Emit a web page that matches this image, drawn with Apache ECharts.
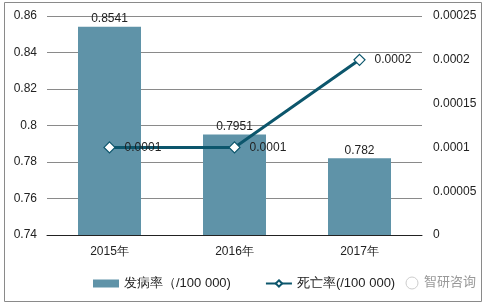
<!DOCTYPE html>
<html><head><meta charset="utf-8">
<script src="https://cdn.jsdelivr.net/npm/echarts@6/dist/echarts.min.js"></script>
<style>html,body{margin:0;padding:0;background:#fff}#c{width:487px;height:305px}</style>
</head><body><div id="c"></div>
<script>
const categories = ['2015年', '2016年', '2017年'];
const incidence = [0.8541, 0.7951, 0.782];
const mortality = [0.0001, 0.0001, 0.0002];
const incidenceName = '发病率（/100 000)';
const mortalityName = '死亡率(/100 000)';

const chart = echarts.init(document.getElementById('c'));
const font = 'Liberation Sans, Arial, sans-serif';
chart.setOption({
  animation: false,
  textStyle: {fontFamily: font},
  grid: {left: 47, right: 65, top: 16, bottom: 70},
  legend: {
    bottom: 10, left: 88, itemGap: 34, itemWidth: 26, itemHeight: 8,
    textStyle: {fontSize: 13, color: '#222', fontFamily: font},
    data: [{name: incidenceName, icon: 'rect'}, {name: mortalityName}]
  },
  xAxis: {
    type: 'category', data: categories,
    axisLine: {lineStyle: {color: '#222'}},
    axisTick: {show: false},
    axisLabel: {color: '#222', fontSize: 12, margin: 11}
  },
  yAxis: [{
    type: 'value', min: 0.74, max: 0.86, interval: 0.02,
    axisLine: {show: false}, axisTick: {show: false},
    splitLine: {lineStyle: {color: '#8a8a8a'}},
    axisLabel: {color: '#222', fontSize: 12, margin: 10,
      formatter: v => String(+v.toFixed(2))}
  }, {
    type: 'value', min: 0, max: 0.00025, interval: 0.00005,
    axisLine: {show: false}, axisTick: {show: false},
    splitLine: {show: false},
    axisLabel: {color: '#222', fontSize: 12, margin: 11,
      formatter: v => v === 0 ? '0' : String(+v.toFixed(5))}
  }],
  series: [{
    name: incidenceName, type: 'bar', data: incidence, barWidth: 63,
    itemStyle: {color: '#5f93a8'},
    label: {show: true, position: 'top', color: '#222', fontSize: 12, distance: 2}
  }, {
    name: mortalityName, type: 'line', yAxisIndex: 1, data: mortality,
    symbol: 'diamond', symbolSize: 11,
    lineStyle: {color: '#0c566c', width: 3},
    itemStyle: {color: '#fff', borderColor: '#0c566c', borderWidth: 1.2},
    label: {show: true, position: 'right', distance: 9, color: '#222', fontSize: 12}
  }],
  graphic: [
    {type: 'rect', shape: {x: 4.5, y: 2.5, width: 477, height: 299}, style: {fill: 'none', stroke: '#8a8a8a', lineWidth: 1}, silent: true},
    {type: 'circle', shape: {cx: 412, cy: 283, r: 6}, style: {fill: 'none', stroke: '#ccc', lineWidth: 1}},
    {type: 'text', left: 424, top: 275, style: {text: '智研咨询', fill: '#999', font: '13px "Noto Sans CJK SC", sans-serif'}}
  ]
});
</script></body></html>
